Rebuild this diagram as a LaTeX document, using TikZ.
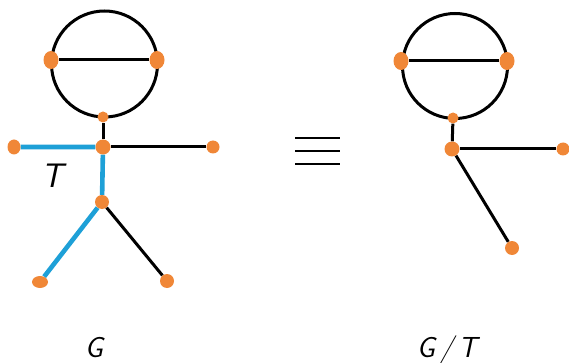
\documentclass[tikz,border=0pt]{standalone}
\usetikzlibrary{backgrounds,shapes.geometric}
\definecolor{dotorange}{RGB}{240,135,55}
\definecolor{treeblue}{RGB}{30,160,215}
\begin{document}
\begin{tikzpicture}[x=1pt,y=-1pt,
  dot/.style={ellipse,fill=dotorange,inner sep=0pt,minimum width=#1,minimum height=#1},
  dot/.default=13pt,
  tall/.style={ellipse,fill=dotorange,inner sep=0pt,minimum width=15pt,minimum height=18pt},
  edge/.style={line width=3pt,black},
  tedge/.style={line width=4.6pt,treeblue},
  lab/.style={font=\fontsize{29}{32}\selectfont\sffamily\itshape,inner sep=0pt,anchor=base}]
\useasboundingbox (0,0) rectangle (569,363);
% ---- G ----
\node[tall] (gl) at (51,60) {};
\node[tall] (gr) at (157,60) {};
\node[dot=11pt] (gb) at (103,117) {};
\node[dot=15pt] (gs) at (103,147) {};
\node[ellipse,fill=dotorange,inner sep=0pt,minimum width=13pt,minimum height=15pt] (glh) at (14,147) {};
\node[dot=13pt] (grh) at (213,147) {};
\node[dot=14pt] (gh) at (102,202) {};
\node[ellipse,fill=dotorange,inner sep=0pt,minimum width=16pt,minimum height=12pt] (glf) at (40,282) {};
\node[dot=14pt] (grf) at (167,281) {};
\node[lab,font=\fontsize{34}{36}\selectfont\sffamily\itshape] (tlab) at (52,187) {T};
\node[lab] (glab) at (94,357) {G};
% ---- G/T ----
\node[tall] (ql) at (401,61) {};
\node[tall] (qr) at (507,61) {};
\node[dot=11pt] (qb) at (453,118) {};
\node[dot=15pt] (qs) at (452,149) {};
\node[dot=13pt] (qrh) at (563,149) {};
\node[dot=14pt] (qf) at (512,248) {};
\node[lab] (qlab) at (447,357) {G\,/\,T};
% equivalence sign
\coordinate (e1a) at (295,138); \coordinate (e1b) at (340,138);
\coordinate (e2a) at (295,151); \coordinate (e2b) at (340,151);
\coordinate (e3a) at (295,164); \coordinate (e3b) at (340,164);
\draw[line width=2.8pt] (e1a) -- (e1b) (e2a) -- (e2b) (e3a) -- (e3b);
\begin{scope}[on background layer]
  \draw[edge] (104.5,64) circle[radius=53];
  \draw[edge] (gl) -- (gr);
  \draw[edge] (gb) -- (gs);
  \draw[edge] (gs) -- (grh);
  \draw[edge] (gh) -- (grf);
  \draw[tedge] (glh) -- (gs) -- (gh) -- (glf);
  \draw[edge] (455,66) circle[radius=52.5];
  \draw[edge] (ql) -- (qr);
  \draw[edge] (qb) -- (qs);
  \draw[edge] (qs) -- (qrh);
  \draw[edge] (qs) -- (qf);
\end{scope}
\end{tikzpicture}
\end{document}
